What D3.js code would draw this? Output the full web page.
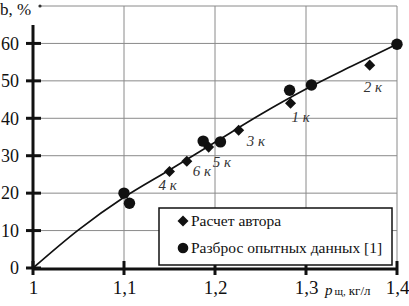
<!DOCTYPE html>
<html>
<head>
<meta charset="utf-8">
<script src="https://cdn.jsdelivr.net/npm/d3@7"></script>
</head>
<body style="margin:0;background:#fff">
<svg id="chart" style="display:block"></svg>
<script>
// values
const xTicks = [1, 1.1, 1.2, 1.3, 1.4];
const xTickLabels = ["1", "1,1", "1,2", "1,3", "1,4"];
const yTicks = [0, 10, 20, 30, 40, 50, 60];
const yGrid = [10, 20, 30, 40, 50, 60, 70];

// calculated curve
const curveX = [1.00, 1.05, 1.10, 1.15, 1.20, 1.25, 1.30, 1.35, 1.40];
const curveY = [0, 10.2, 18.9, 26.2, 33.6, 41.0, 47.8, 53.9, 59.8];

// author's calculation (diamonds)
const calcX = [1.283, 1.370, 1.226, 1.150, 1.193, 1.169];
const calcY = [44.0, 54.2, 36.8, 25.8, 32.3, 28.5];
const calcNames = ["1 к", "2 к", "3 к", "4 к", "5 к", "6 к"];
const labelDx = [1, -6, 8, -11, 4, 6];
const labelDy = [19, 27, 16, 19, 20, 15];

// experimental data spread (circles)
const expX = [1.100, 1.106, 1.187, 1.206, 1.282, 1.306, 1.400];
const expY = [20.0, 17.3, 33.9, 33.7, 47.5, 48.9, 59.8];

const legendNames = ["Расчет автора", "Разброс опытных данных [1]"];

const FONT = "Liberation Serif";
const W = 409, H = 306;
const svg = d3.select("#chart").attr("width", W).attr("height", H).attr("font-family", FONT);

const x = d3.scaleLinear().domain([1, 1.4]).range([33, 397]);
const y = d3.scaleLinear().domain([0, 70]).range([268, 6]);

// grid
svg.append("g").selectAll("line").data(yGrid).join("line")
    .attr("x1", d => d === 70 ? 40 : x(1)).attr("x2", x(1.4))
    .attr("y1", d => y(d)).attr("y2", d => y(d))
    .attr("stroke", "#8a8a8a").attr("stroke-width", 1);
svg.append("g").selectAll("line").data(xTicks.slice(1)).join("line")
    .attr("x1", d => x(d)).attr("x2", d => x(d))
    .attr("y1", y(0)).attr("y2", y(70))
    .attr("stroke", "#8a8a8a").attr("stroke-width", 1);
svg.append("circle").attr("cx", 40).attr("cy", y(70)).attr("r", 1.6).attr("fill", "#333");

// axes lines
svg.append("line").attr("x1", x(1)).attr("x2", x(1)).attr("y1", y(0) + 1).attr("y2", 25)
    .attr("stroke", "#111").attr("stroke-width", 3);
svg.append("line").attr("x1", x(1) - 1).attr("x2", x(1.4) + 1).attr("y1", y(0) + 1).attr("y2", y(0) + 1)
    .attr("stroke", "#111").attr("stroke-width", 3);

// cross ticks
svg.append("g").selectAll("line").data(yTicks).join("line")
    .attr("x1", x(1) - 7).attr("x2", x(1) + 8)
    .attr("y1", d => y(d)).attr("y2", d => y(d))
    .attr("stroke", "#111").attr("stroke-width", 3);
svg.append("g").selectAll("line").data(xTicks).join("line")
    .attr("x1", d => x(d)).attr("x2", d => x(d))
    .attr("y1", y(0) - 7).attr("y2", y(0) + 7)
    .attr("stroke", "#111").attr("stroke-width", 3);

// tick labels via axes
const yAxis = svg.append("g").attr("transform", `translate(${x(1)},0)`)
    .call(d3.axisLeft(y).tickValues(yTicks).tickSize(0).tickPadding(14));
yAxis.attr("font-family", FONT);
yAxis.select(".domain").remove();
yAxis.selectAll("text").attr("font-family", FONT).attr("font-size", 18).attr("fill", "#111");

const xAxis = svg.append("g").attr("transform", `translate(0,${y(0)})`)
    .call(d3.axisBottom(x).tickValues(xTicks).tickSize(0).tickPadding(13)
        .tickFormat((d, i) => xTickLabels[i]));
xAxis.attr("font-family", FONT);
xAxis.select(".domain").remove();
xAxis.selectAll("text").attr("font-family", FONT).attr("font-size", 19).attr("fill", "#111");

// axis titles
svg.append("text").attr("x", 0).attr("y", 15).attr("font-family", FONT)
    .attr("font-size", 17).attr("fill", "#111").text("b, %");
const xt = svg.append("text").attr("x", 325).attr("y", 295).attr("font-family", FONT).attr("fill", "#111");
xt.append("tspan").attr("font-size", 15).attr("font-style", "italic").text("р");
xt.append("tspan").attr("font-size", 11).attr("dx", 2).text("щ,");
xt.append("tspan").attr("font-size", 13).attr("dx", 3).text("кг/л");

// curve
const curveData = curveX.map((v, i) => [v, curveY[i]]);
svg.append("path").datum(curveData)
    .attr("d", d3.line().x(d => x(d[0])).y(d => y(d[1])).curve(d3.curveMonotoneX))
    .attr("fill", "none").attr("stroke", "#111").attr("stroke-width", 1.7);

// markers
const diamond = d3.symbol().type(d3.symbolDiamond2).size(78);
svg.append("g").selectAll("circle").data(expX).join("circle")
    .attr("cx", d => x(d)).attr("cy", (d, i) => y(expY[i])).attr("r", 5.7).attr("fill", "#111");
svg.append("g").selectAll("path").data(calcX).join("path")
    .attr("transform", (d, i) => `translate(${x(d)},${y(calcY[i])})`)
    .attr("d", diamond).attr("fill", "#111");
svg.append("g").selectAll("text").data(calcNames).join("text")
    .attr("x", (d, i) => x(calcX[i]) + labelDx[i]).attr("y", (d, i) => y(calcY[i]) + labelDy[i])
    .attr("font-family", FONT).attr("font-size", 15).attr("font-style", "italic")
    .attr("fill", "#333").text(d => d);

// legend
const lg = svg.append("g");
lg.append("rect").attr("x", 159).attr("y", 208).attr("width", 233).attr("height", 57)
    .attr("fill", "#fff").attr("stroke", "#111").attr("stroke-width", 1.5);
lg.append("path").attr("transform", "translate(183,221)").attr("d", diamond).attr("fill", "#111");
lg.append("circle").attr("cx", 183).attr("cy", 248).attr("r", 5.3).attr("fill", "#111");
lg.selectAll("text").data(legendNames).join("text")
    .attr("x", 191).attr("y", (d, i) => 226 + i * 27)
    .attr("font-family", FONT).attr("font-size", 15.5).attr("fill", "#111").text(d => d);
</script>
</body>
</html>
